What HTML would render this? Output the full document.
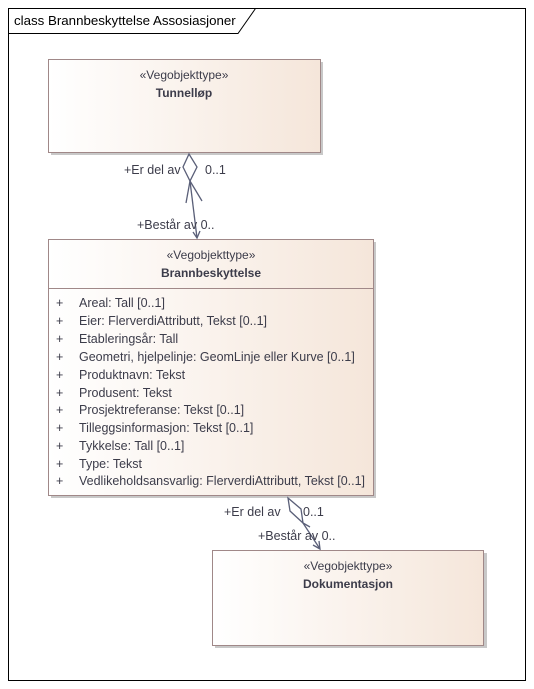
<!DOCTYPE html>
<html><head><meta charset="utf-8"><style>
html,body{margin:0;padding:0;background:#fff;}
svg{display:block;}
text{font-family:"Liberation Sans","DejaVu Sans",sans-serif;font-size:12px;fill:#3c3c4a;}
.b{font-weight:bold;}
.a, .a text{font-size:12.5px;}
</style></head><body>
<svg width="534" height="689" viewBox="0 0 534 689" xmlns="http://www.w3.org/2000/svg">
<defs>
<linearGradient id="g" x1="0" x2="1" y1="0" y2="0">
<stop offset="0" stop-color="#ffffff"/><stop offset="1" stop-color="#f5e6da"/>
</linearGradient>
</defs>
<rect x="8.5" y="8.5" width="517" height="672" fill="#fff" stroke="#000" stroke-width="1"/>
<path d="M8.5 33.5 H238 L255.5 8.5" fill="none" stroke="#000"/>
<text x="14" y="25" style="font-size:13.3px;fill:#000">class Brannbeskyttelse Assosiasjoner</text>

<rect x="51" y="62" width="272" height="93" fill="#c8c8c8"/>
<rect x="48.5" y="59.5" width="272" height="93" fill="url(#g)" stroke="#a08888"/>
<text x="184" y="79" text-anchor="middle">«Vegobjekttype»</text>
<text x="184" y="97" text-anchor="middle" class="b">Tunnelløp</text>

<rect x="51" y="242" width="325" height="256" fill="#c8c8c8"/>
<rect x="48.5" y="239.5" width="325" height="256" fill="url(#g)" stroke="#a08888"/>
<line x1="48.5" y1="288.5" x2="373.5" y2="288.5" stroke="#a08888"/>
<text x="211" y="259" text-anchor="middle">«Vegobjekttype»</text>
<text x="211" y="277" text-anchor="middle" class="b">Brannbeskyttelse</text>
<g class="a">
<text x="56" y="307">+</text><text x="79" y="307">Areal: Tall [0..1]</text>
<text x="56" y="325">+</text><text x="79" y="325">Eier: FlerverdiAttributt, Tekst [0..1]</text>
<text x="56" y="343">+</text><text x="79" y="343">Etableringsår: Tall</text>
<text x="56" y="361">+</text><text x="79" y="361">Geometri, hjelpelinje: GeomLinje eller Kurve [0..1]</text>
<text x="56" y="379">+</text><text x="79" y="379">Produktnavn: Tekst</text>
<text x="56" y="397">+</text><text x="79" y="397">Produsent: Tekst</text>
<text x="56" y="414">+</text><text x="79" y="414">Prosjektreferanse: Tekst [0..1]</text>
<text x="56" y="432">+</text><text x="79" y="432">Tilleggsinformasjon: Tekst [0..1]</text>
<text x="56" y="450">+</text><text x="79" y="450">Tykkelse: Tall [0..1]</text>
<text x="56" y="468">+</text><text x="79" y="468">Type: Tekst</text>
<text x="56" y="485">+</text><text x="79" y="485">Vedlikeholdsansvarlig: FlerverdiAttributt, Tekst [0..1]</text>
</g>

<rect x="215" y="553" width="272" height="95" fill="#c8c8c8"/>
<rect x="212.5" y="550.5" width="271" height="95" fill="url(#g)" stroke="#a08888"/>
<text x="348" y="570" text-anchor="middle">«Vegobjekttype»</text>
<text x="348" y="588" text-anchor="middle" class="b">Dokumentasjon</text>

<g stroke="#5a5f78" stroke-width="1.3" fill="none">
<path d="M189 154 L183 167 L190 181 L197 167 Z" fill="#fff"/>
<line x1="190" y1="181" x2="197" y2="238"/>
<line x1="190" y1="181" x2="186" y2="203"/>
<line x1="190" y1="181" x2="202" y2="201"/>
<path d="M193 232 L197 238 L200 231"/>
</g>
<g class="a">
<text x="124" y="174">+Er del av</text>
<text x="205" y="174">0..1</text>
<text x="137" y="229">+Består av 0..</text>
</g>

<g stroke="#5a5f78" stroke-width="1.3" fill="none">
<path d="M288 498 L290 511 L303 523 L301 509 Z" fill="#fff"/>
<line x1="303" y1="523" x2="320" y2="549"/>
<line x1="303" y1="523" x2="310" y2="527"/>
<path d="M313 545 L320 549 L319 541"/>
</g>
<g class="a">
<text x="224" y="516">+Er del av</text>
<text x="303" y="516">0..1</text>
<text x="258" y="540">+Består av 0..</text>
</g>
</svg>
</body></html>
